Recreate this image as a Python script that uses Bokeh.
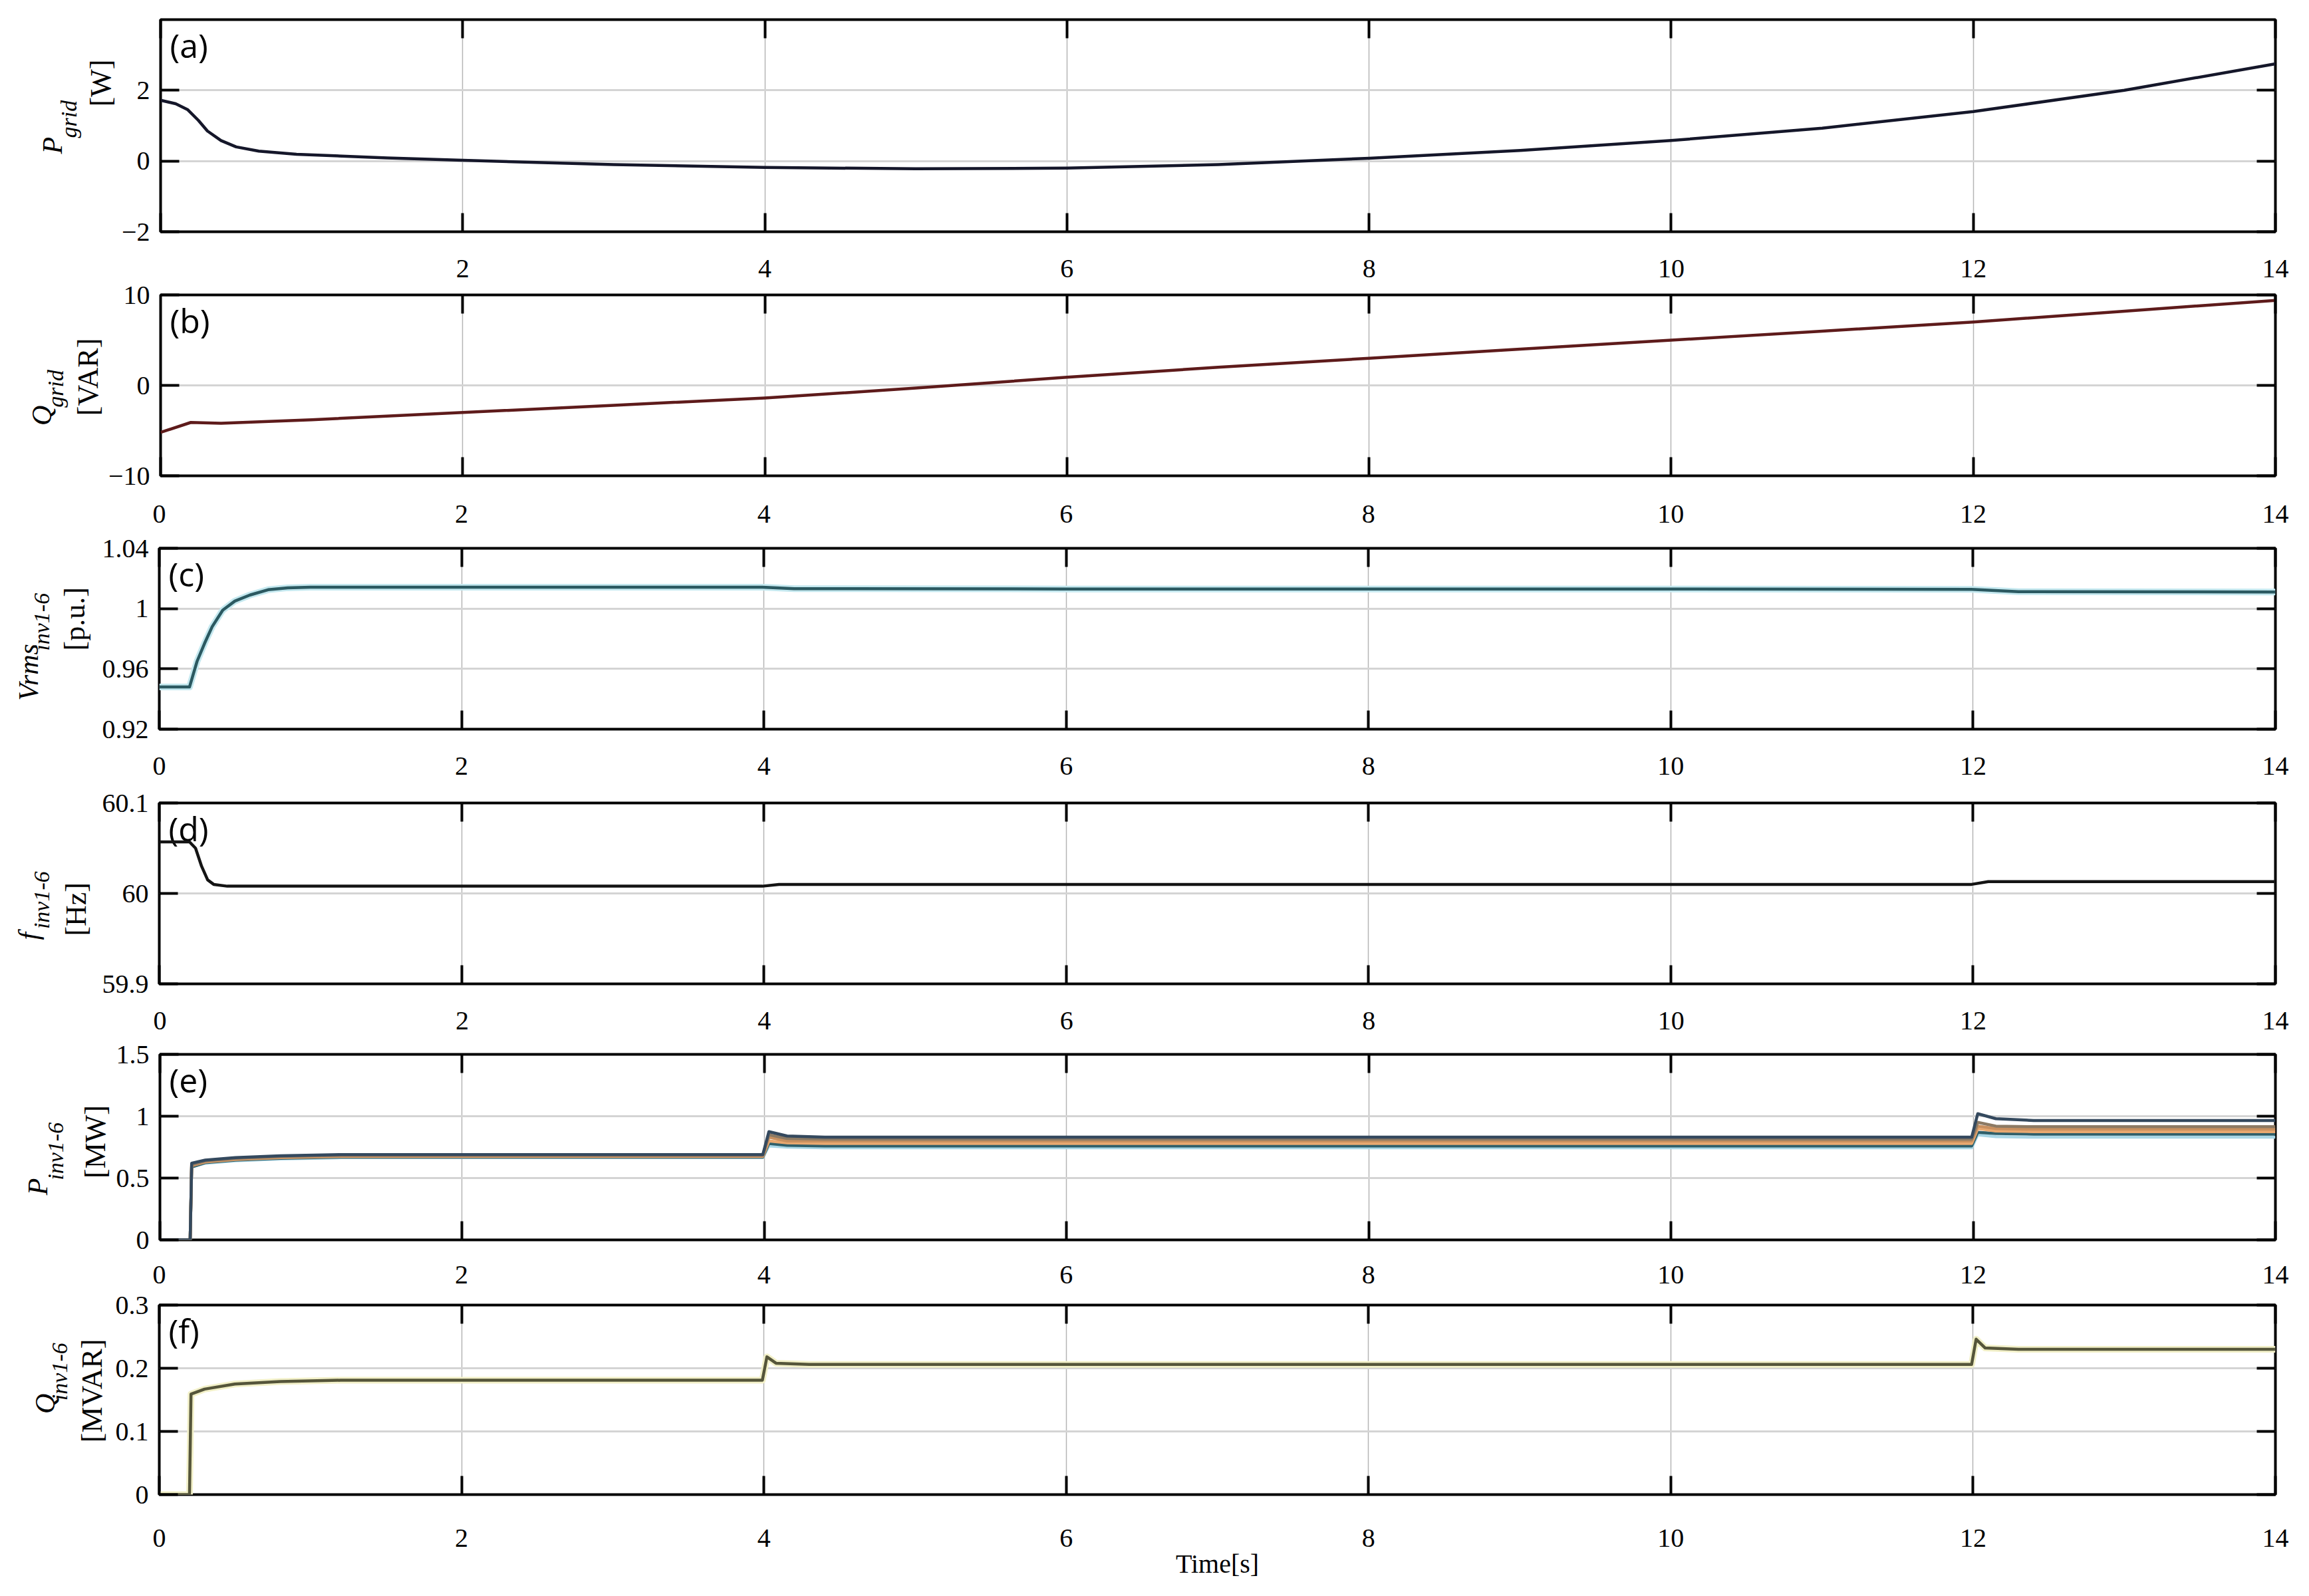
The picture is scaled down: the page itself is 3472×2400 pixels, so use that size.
import math
from bokeh.plotting import figure
from bokeh.models import Range1d, FixedTicker, LinearAxis, CustomJSTickFormatter
from bokeh.layouts import column, row
from bokeh.embed import file_html
from bokeh.resources import INLINE
from bokeh.core.properties import value

# ---------------- data ----------------
x_ticks = [0, 2, 4, 6, 8, 10, 12, 14]
x_ticks_a = [2, 4, 6, 8, 10, 12, 14]

# (a) grid active power [W]
t_a = [0, 0.1, 0.18, 0.25, 0.31, 0.4, 0.5, 0.65, 0.9, 1.5, 2, 3, 4, 5, 6, 7, 8, 9, 10, 11, 12, 13, 14]
p_grid = [1.72, 1.62, 1.45, 1.15, 0.85, 0.58, 0.40, 0.28, 0.19, 0.09, 0.02, -0.10, -0.18, -0.22,
          -0.20, -0.10, 0.08, 0.30, 0.58, 0.93, 1.40, 2.00, 2.75]

# (b) grid reactive power [VAR]
t_b = [0, 0.2, 0.4, 1, 2, 3, 4, 5, 6, 7, 8, 9, 10, 11, 12, 13, 14]
q_grid = [-5.2, -4.1, -4.2, -3.8, -3.0, -2.2, -1.4, -0.3, 0.9, 2.0, 3.0, 4.0, 5.0, 6.0, 7.0, 8.2, 9.4]

# (c) inverter rms voltage [p.u.]
t_c = [0, 0.2, 0.25, 0.3, 0.35, 0.42, 0.5, 0.6, 0.72, 0.85, 1.0, 2, 3.99, 4.2, 6, 8, 10, 11.99, 12.3, 14]
v_rms = [0.948, 0.948, 0.965, 0.977, 0.988, 0.999, 1.005, 1.009, 1.0125, 1.0138, 1.0142, 1.0142,
         1.0142, 1.0132, 1.013, 1.013, 1.013, 1.0128, 1.0112, 1.011]

# (d) inverter frequency [Hz]
t_d = [0, 0.2, 0.24, 0.28, 0.32, 0.36, 0.45, 1, 3.99, 4.1, 11.99, 12.1, 14]
f_inv = [60.057, 60.057, 60.05, 60.03, 60.015, 60.01, 60.008, 60.008, 60.008, 60.010, 60.010,
         60.013, 60.013]

# (e) inverter active power [MW], six inverters
t_e = [0, 0.2, 0.21, 0.3, 0.5, 0.8, 1.2, 2, 3.99, 4.03, 4.15, 4.4, 6, 11.99, 12.03, 12.15, 12.4, 14]
p_inv1 = [0, 0, 0.62, 0.645, 0.665, 0.68, 0.69, 0.69, 0.69, 0.875, 0.84, 0.83, 0.83, 0.83, 1.02, 0.98, 0.965, 0.965]
p_inv2 = [0, 0, 0.61, 0.64, 0.66, 0.675, 0.685, 0.685, 0.685, 0.85, 0.82, 0.815, 0.815, 0.815, 0.95, 0.92, 0.915, 0.915]
p_inv3 = [0, 0, 0.60, 0.635, 0.655, 0.67, 0.68, 0.68, 0.68, 0.83, 0.80, 0.80, 0.80, 0.80, 0.92, 0.90, 0.895, 0.895]
p_inv4 = [0, 0, 0.60, 0.63, 0.65, 0.665, 0.675, 0.675, 0.675, 0.80, 0.785, 0.78, 0.78, 0.78, 0.90, 0.88, 0.875, 0.875]
p_inv5 = [0, 0, 0.59, 0.625, 0.645, 0.66, 0.67, 0.67, 0.67, 0.78, 0.765, 0.76, 0.76, 0.76, 0.87, 0.86, 0.855, 0.855]
p_inv6 = [0, 0, 0.59, 0.62, 0.64, 0.655, 0.665, 0.665, 0.665, 0.76, 0.75, 0.745, 0.745, 0.745, 0.85, 0.835, 0.83, 0.83]

# (f) inverter reactive power [MVAR]
t_f = [0, 0.2, 0.21, 0.3, 0.5, 0.8, 1.2, 2, 3.99, 4.02, 4.08, 4.3, 6, 11.99, 12.02, 12.08, 12.3, 14]
q_inv = [0, 0, 0.159, 0.167, 0.175, 0.179, 0.181, 0.181, 0.181, 0.218, 0.208, 0.206, 0.206, 0.206,
         0.246, 0.232, 0.23, 0.23]

# ---------------- styling / layout ----------------
SERIF = "Liberation Serif"
SANS = "Open Sans"
LEFT_TOTAL = 239          # page x 0 .. 239 (frame left)
FRAME_W = 3182
BORDER_R = 43
TICK_LEN = 28
LW = 4.5

fmt_code = "return String(tick).replace('-', '\u2212');"


def style_axis(ax, ticks, labels=True, standoff=16):
    ax.ticker = FixedTicker(ticks=ticks)
    ax.axis_line_color = None
    ax.major_tick_in = TICK_LEN
    ax.major_tick_out = 0
    ax.major_tick_line_width = 4
    ax.major_tick_line_color = "black"
    ax.minor_tick_line_color = None
    ax.major_label_standoff = standoff
    ax.major_label_text_font = SERIF
    ax.major_label_text_font_size = "40px"
    ax.major_label_text_color = "black" if labels else None
    ax.formatter = CustomJSTickFormatter(code=fmt_code)


def make_panel(tag, yr, yticks, frame_h, top, bottom, border_l, fig_top_page, ylab):
    height = top + frame_h + bottom
    p = figure(width=border_l + FRAME_W + BORDER_R, height=height,
               x_range=Range1d(0, 14), y_range=Range1d(*yr),
               output_backend="svg", toolbar_location=None,
               min_border_left=border_l, min_border_right=BORDER_R,
               min_border_top=top, min_border_bottom=bottom)
    p.background_fill_color = "white"
    p.border_fill_color = "white"
    p.outline_line_color = "black"
    p.outline_line_width = 4
    bottom_ax = p.xaxis[0]
    style_axis(bottom_ax, x_ticks, False)
    style_axis(p.yaxis[0], yticks, True, 16)
    ra = LinearAxis()
    style_axis(ra, yticks, False)
    p.add_layout(ra, "right")
    ta = LinearAxis()
    style_axis(ta, x_ticks, False)
    p.add_layout(ta, "above")
    p.xgrid.ticker = FixedTicker(ticks=x_ticks)
    p.ygrid.ticker = FixedTicker(ticks=yticks)
    p.xgrid.grid_line_color = "#b4b4b4"
    p.xgrid.grid_line_width = 1.5
    p.ygrid.grid_line_color = "#d4d4d4"
    p.ygrid.grid_line_width = 3
    p.text(x=[0], y=[yr[1]], text=[tag], x_offset=14, y_offset=4,
           text_font=value(SANS), text_font_size="50px", text_color="black",
           text_baseline="top", text_align="left")

    # side figure carrying the two-part y label (page-pixel coordinates)
    side_w = LEFT_TOTAL - border_l
    s = figure(width=side_w, height=height, x_range=Range1d(0, side_w),
               y_range=Range1d(fig_top_page + height, fig_top_page),
               output_backend="svg", toolbar_location=None,
               x_axis_type=None, y_axis_type=None,
               min_border_left=0, min_border_right=0, min_border_top=0, min_border_bottom=0)
    s.outline_line_color = None
    s.grid.visible = False
    s.background_fill_color = "white"
    s.border_fill_color = "white"
    sym, sub, unit, (sx, sy), (bx, by), (ux, uy) = ylab
    s.text(x=[sx], y=[sy], text=[sym], angle=math.pi / 2, text_font=value(SERIF),
           text_font_style="italic", text_font_size="42px", text_align="left",
           text_baseline="middle", text_color="black")
    s.text(x=[bx], y=[by], text=[sub], angle=math.pi / 2, text_font=value(SERIF),
           text_font_style="italic", text_font_size="34px", text_align="left",
           text_baseline="middle", text_color="black")
    s.text(x=[ux], y=[uy], text=[unit], angle=math.pi / 2, text_font=value(SERIF),
           text_font_size="44px", text_align="center", text_baseline="middle",
           text_color="black")
    return p, s, ta, bottom_ax


# panel geometry (page pixels): frame tops 29, 443, 824, 1207, 1585, 1962
pa, sa, ta_a, ba_a = make_panel("(a)", (-2, 4), [-2, 0, 2], 319, 29, 23, 60, 0,
                                ("P", "grid", "[W]", (78, 235), (103, 207), (151, 111)))
pa.line(t_a, p_grid, line_color="#15172a", line_width=LW, line_join="round")

pb, sb, ta_b, ba_b = make_panel("(b)", (-10, 10), [-10, 0, 10], 272, 72, 24, 80, 371,
                                ("Q", "grid", "[VAR]", (62, 637), (83, 600), (132, 538)))
pb.line(t_b, q_grid, line_color="#5e1b1b", line_width=LW, line_join="round")

pc, sc, ta_c, ba_c = make_panel("(c)", (0.92, 1.04), [0.92, 0.96, 1, 1.04], 272, 85, 24, 90, 739,
                                ("Vrms", "inv1-6", "[p.u.]", (42, 1060), (62, 955), (112, 888)))
pc.line(t_c, v_rms, line_color="#c4e8ef", line_width=10, line_join="round")
pc.line(t_c, v_rms, line_color="#2b5961", line_width=LW, line_join="round")

pd, sd, ta_d, ba_d = make_panel("(d)", (59.9, 60.1), [59.9, 60, 60.1], 272, 87, 24, 90, 1120,
                                ("f", "inv1-6", "[Hz]", (42, 1410), (62, 1387), (114, 1345)))
pd.line(t_d, f_inv, line_color="#141414", line_width=LW, line_join="round")

pe, se, ta_e, ba_e = make_panel("(e)", (0, 1.5), [0, 0.5, 1, 1.5], 279, 82, 21, 68, 1503,
                                ("P", "inv1-6", "[MW]", (56, 1793), (83, 1762), (143, 1683)))
e_series = [p_inv6, p_inv5, p_inv4, p_inv3, p_inv2, p_inv1]
e_colors = ["#a8d6e6", "#2f5f6a", "#e8a870", "#c9905f", "#8c7a64", "#34495e"]
for ys, c in zip(e_series, e_colors):
    pe.line(t_e, ys, line_color=c, line_width=LW, line_join="round")

pf, sf, ta_f, ba_f = make_panel("(f)", (0, 0.3), [0, 0.1, 0.2, 0.3], 285, 77, 140, 70, 1885,
                                ("Q", "inv1-6", "[MVAR]", (67, 2173), (89, 2138), (138, 2112)))
pf.line(t_f, q_inv, line_color="#f2f0c8", line_width=10, line_join="round")
pf.line(t_f, q_inv, line_color="#55553a", line_width=LW, line_join="round")

# x tick labels of each panel are carried by the top axis of the panel below it
style_axis(ta_b, x_ticks_a, True, 27)
style_axis(ta_c, x_ticks, True, 39)
style_axis(ta_d, x_ticks, True, 43)
style_axis(ta_e, x_ticks, True, 38)
style_axis(ta_f, x_ticks, True, 33)
style_axis(ba_f, x_ticks, True, 52)
ba_f.axis_label = "Time[s]"
ba_f.axis_label_text_font = SERIF
ba_f.axis_label_text_font_style = "normal"
ba_f.axis_label_text_font_size = "40px"
ba_f.axis_label_text_color = "black"
ba_f.axis_label_standoff = 0

layout = column(row(sa, pa), row(sb, pb), row(sc, pc), row(sd, pd), row(se, pe), row(sf, pf),
                spacing=0)
open("out.html", "w").write(file_html(layout, INLINE))
